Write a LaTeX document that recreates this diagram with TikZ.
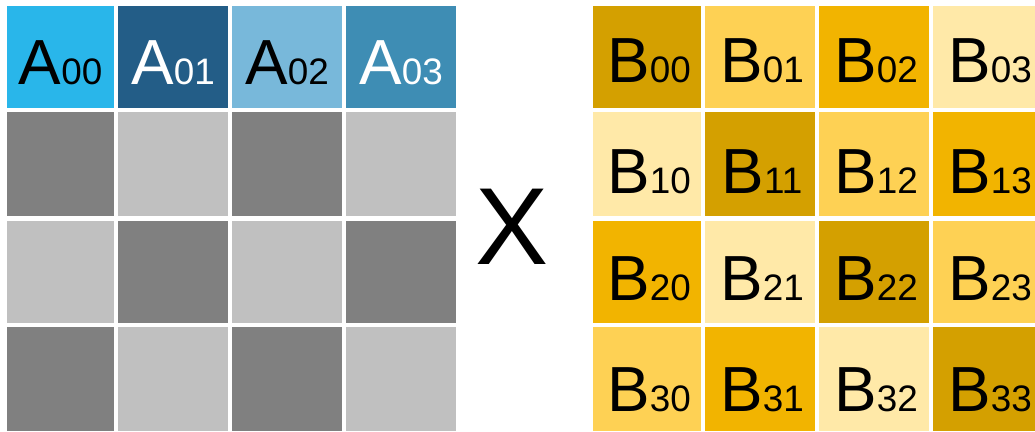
\documentclass[tikz,border=0pt]{standalone}
\usepackage{fontspec}
\setmainfont{Liberation Sans}
\usetikzlibrary{calc}
\definecolor{aZero}{RGB}{41,182,234}
\definecolor{aOne}{RGB}{35,93,135}
\definecolor{aTwo}{RGB}{120,184,218}
\definecolor{aThree}{RGB}{62,141,180}
\definecolor{grayDark}{RGB}{128,128,128}
\definecolor{grayLight}{RGB}{192,192,192}
\definecolor{goldDark}{RGB}{212,160,0}
\definecolor{goldLight}{RGB}{254,209,84}
\definecolor{goldMid}{RGB}{242,180,0}
\definecolor{goldPale}{RGB}{255,233,168}
\newcommand{\subidx}[1]{{\fontsize{37}{37}\selectfont #1}}
\begin{document}
\begin{tikzpicture}[x=1bp,y=-1bp,
  cell/.style={draw=none,inner sep=0,outer sep=0,anchor=north west},
  lab/.style={inner sep=0,outer sep=0,anchor=base,font=\fontsize{64}{64}\selectfont}]
\useasboundingbox (0,0) rectangle (1035,431);
% matrix A: coloured first row, checkerboard of greys below
\foreach \r/\y/\h/\bl in {0/6/102/84,1/112/104/193,2/221/102/300,3/327/104/411}{
  \foreach \c/\x/\w/\col/\tc in {0/7/107/aZero/black,1/118/110/aOne/white,2/232/110/aTwo/black,3/346/110/aThree/white}{
    \pgfmathtruncatemacro{\odd}{mod(\r+\c,2)}
    \ifnum\r=0
      \node[cell,fill=\col,minimum width=\w bp,minimum height=\h bp] (a-\r-\c) at (\x,\y) {};
      \node[lab,text=\tc] (ta-\r-\c) at ($(\x,\bl)+(\w/2,0)$) {A\subidx{0\c}};
    \else
      \ifnum\odd=1
        \node[cell,fill=grayDark,minimum width=\w bp,minimum height=\h bp] (a-\r-\c) at (\x,\y) {};
      \else
        \node[cell,fill=grayLight,minimum width=\w bp,minimum height=\h bp] (a-\r-\c) at (\x,\y) {};
      \fi
    \fi
  }
}
% matrix B: four shades of gold shifted along the diagonals
\foreach \r/\y/\h/\bl in {0/6/102/82,1/112/104/193,2/221/102/300,3/327/104/411}{
  \foreach \c/\x/\w in {0/593/108,1/705/110,2/819/110,3/933/110}{
    \pgfmathtruncatemacro{\k}{mod(\c-\r+4,4)}
    \ifcase\k \def\bc{goldDark}\or \def\bc{goldLight}\or \def\bc{goldMid}\else \def\bc{goldPale}\fi
    \node[cell,fill=\bc,minimum width=\w bp,minimum height=\h bp] (b-\r-\c) at (\x,\y) {};
    \node[lab] (tb-\r-\c) at ($(\x,\bl)+(\w/2+2,0)$) {B\subidx{\r\c}};
  }
}
% multiplication sign
\node[inner sep=0,anchor=base,font=\fontsize{110}{110}\selectfont] (times) at (512,264) {X};
\end{tikzpicture}
\end{document}
